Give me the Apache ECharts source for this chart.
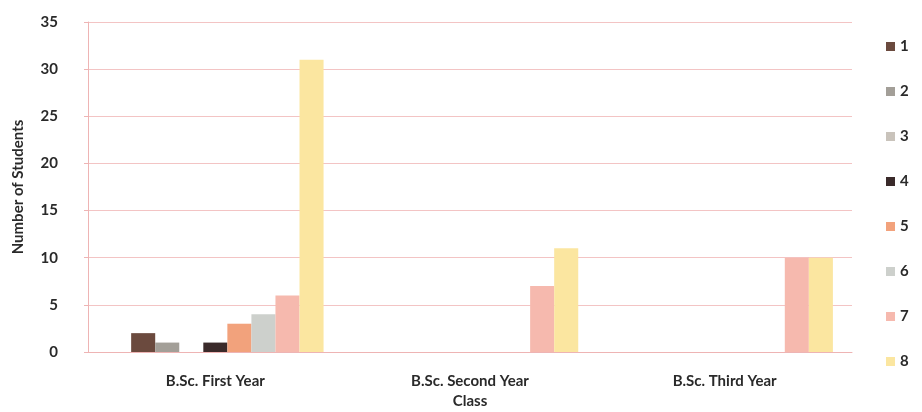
<!DOCTYPE html>
<html>
<head>
<meta charset="utf-8">
<script src="https://cdn.jsdelivr.net/npm/echarts@6/dist/echarts.min.js"></script>
<style>
  html, body { margin: 0; padding: 0; background: #fff; }
  #chart { width: 922px; height: 412px; }
</style>
</head>
<body>
<div id="chart"></div>
<script>
// class categories
const classes = ["B.Sc. First Year", "B.Sc. Second Year", "B.Sc. Third Year"];
// one list per series (1..8)
const s1 = [2, 0, 0];
const s2 = [1, 0, 0];
const s3 = [0, 0, 0];
const s4 = [1, 0, 0];
const s5 = [3, 0, 0];
const s6 = [4, 0, 0];
const s7 = [6, 7, 10];
const s8 = [31, 11, 10];
const seriesNames = ["1", "2", "3", "4", "5", "6", "7", "8"];
const seriesData = [s1, s2, s3, s4, s5, s6, s7, s8];
const colors = ["#6b4a3e", "#a39f98", "#c9c3bb", "#3a2a2a", "#f2a27c", "#cdd0cc", "#f6b9ae", "#fbe6a0"];

const chart = echarts.init(document.getElementById("chart"));

// the original has an empty slot before series 1 (bars sit right of the label)
const bars = [{ name: "", type: "bar", data: [], barGap: "0%", barCategoryGap: "15%" }];
seriesNames.forEach((n, i) => {
  bars.push({
    name: n,
    type: "bar",
    data: seriesData[i],
    itemStyle: { color: colors[i] },
    barGap: "0%",
    barCategoryGap: "15%"
  });
});

const txt = { fontSize: 15, color: "#2a2a2a", fontWeight: "bold", fontFamily: "Lato" };

const option = {
  backgroundColor: "#fff",
  textStyle: { fontFamily: "Lato", color: "#2a2a2a" },
  grid: { left: 88, right: 70, top: 22, bottom: 60, outerBoundsMode: "none" },
  legend: {
    orient: "vertical",
    left: 881,
    top: 34,
    itemWidth: 9,
    itemHeight: 9,
    itemGap: 30,
    icon: "rect",
    textStyle: txt,
    data: seriesNames
  },
  xAxis: {
    type: "category",
    data: classes,
    name: "Class",
    nameLocation: "middle",
    nameGap: 42,
    nameTextStyle: txt,
    axisLine: { lineStyle: { color: "#eeb4b4" } },
    axisTick: { show: false },
    axisLabel: Object.assign({ margin: 22 }, txt)
  },
  yAxis: {
    type: "value",
    min: 0,
    max: 35,
    interval: 5,
    name: "Number of Students",
    nameLocation: "middle",
    nameGap: 62,
    nameTextStyle: txt,
    axisLine: { show: true, lineStyle: { color: "#eeb4b4" } },
    axisTick: { show: true, length: 4, lineStyle: { color: "#eeb4b4" } },
    axisLabel: Object.assign({ margin: 30 }, txt),
    splitLine: { lineStyle: { color: "#f3c4c4" } }
  },
  series: bars
};
chart.setOption(option);
</script>
</body>
</html>
